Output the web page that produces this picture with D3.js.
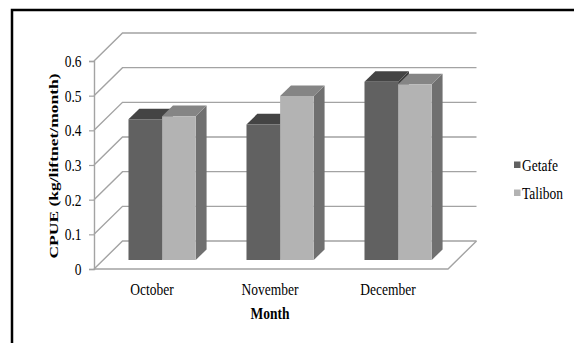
<!DOCTYPE html>
<html>
<head>
<meta charset="utf-8">
<script src="https://cdn.jsdelivr.net/npm/d3@7"></script>
<style>
  html, body { margin: 0; padding: 0; background: #fff; }
  svg { display: block; }
</style>
</head>
<body>
<svg id="chart" width="574" height="343"></svg>
<script>
// CPUE by month for two sites
const months = ["October", "November", "December"];
const getafe = [0.406, 0.391, 0.514];
const talibon = [0.415, 0.473, 0.507];
const seriesNames = ["Getafe", "Talibon"];
const yTicks = [0, 0.1, 0.2, 0.3, 0.4, 0.5, 0.6];

const W = 574, H = 343;
const FONT = "'Liberation Serif', 'Times New Roman', Times, serif";
const FS = "17.5px";
const SX = 0.77; // narrow glyph width

const svg = d3.select("#chart");

// front plane of the 3-D box
const left = 94, right = 448, floorY = 269, topY = 61;
// oblique depth offset of the back wall
const depthDX = 28.5, depthDY = -28;

const x0 = d3.scaleBand().domain(months).range([left, right]).paddingInner(0.43).paddingOuter(0.215);
const x1 = d3.scaleBand().domain(seriesNames).range([0, x0.bandwidth()]);
const y = d3.scaleLinear().domain([0, 0.6]).range([floorY, topY]);

// project (screen x on front plane, value, depth fraction) to screen
const P = (px, v, z) => [px + depthDX * z, y(v) + depthDY * z];
const pts = arr => arr.map(p => p.join(",")).join(" ");

// text helper: places narrowed serif text
function label(parent, x, yy, str, opts = {}) {
  return parent.append("text")
    .attr("transform", `translate(${x},${yy}) scale(${SX},1)` + (opts.rotate ? ` rotate(${opts.rotate})` : ""))
    .attr("text-anchor", opts.anchor || "start")
    .style("font-family", FONT)
    .style("font-size", FS)
    .style("font-weight", opts.bold ? "bold" : "normal")
    .attr("fill", "#000")
    .text(str);
}

// outer frame (runs off the right and bottom edges)
svg.append("rect")
  .attr("x", 12).attr("y", 10)
  .attr("width", W + 20).attr("height", H + 20)
  .attr("fill", "none").attr("stroke", "#000").attr("stroke-width", 2.5);

const grid = svg.append("g")
  .attr("fill", "none").attr("stroke", "#a3a3a3").attr("stroke-width", 1.4);

// side wall diagonals and back wall gridlines
yTicks.forEach(v => {
  grid.append("polyline").attr("points", pts([P(left, v, 0), P(left, v, 1), P(right, v, 1)]));
});
// floor front and right edges
grid.append("polyline").attr("points", pts([P(left, 0, 0), P(right, 0, 0), P(right, 0, 1)]));

// value axis line and ticks
const yAxis = d3.axisLeft(y).tickValues(yTicks).tickSize(5).tickPadding(7)
  .tickFormat(d => d === 0 ? "0" : d3.format(".1f")(d));
const gAxis = svg.append("g").attr("transform", `translate(${left},0)`).call(yAxis);
gAxis.select(".domain").attr("stroke", "#a3a3a3").attr("stroke-width", 1.4);
gAxis.selectAll(".tick line").attr("stroke", "#a3a3a3").attr("stroke-width", 1.2);
gAxis.selectAll(".tick text")
  .attr("x", 0)
  .attr("transform", `translate(-12.5,0) scale(${SX},1)`)
  .style("font-family", FONT).style("font-size", FS).attr("fill", "#000");

// bars
const z0 = 0.32, z1 = 0.70;
const colors = {
  Getafe: { front: "#616161", top: "#444444", side: "#3c3c3c" },
  Talibon: { front: "#b3b3b3", top: "#858585", side: "#707070" }
};
const values = { Getafe: getafe, Talibon: talibon };

const bars = svg.append("g");
months.forEach((m, i) => {
  seriesNames.forEach(s => {
    const v = values[s][i];
    const xa = x0(m) + x1(s), xb = xa + x1.bandwidth();
    const c = colors[s];
    const g = bars.append("g");
    g.append("polygon").attr("fill", c.side)
      .attr("points", pts([P(xb, 0, z0), P(xb, 0, z1), P(xb, v, z1), P(xb, v, z0)]));
    g.append("polygon").attr("fill", c.top)
      .attr("points", pts([P(xa, v, z0), P(xb, v, z0), P(xb, v, z1), P(xa, v, z1)]));
    g.append("polygon").attr("fill", c.front)
      .attr("points", pts([P(xa, 0, z0), P(xb, 0, z0), P(xb, v, z0), P(xa, v, z0)]));
  });
});

// category labels
const cats = svg.append("g");
months.forEach(m => label(cats, x0(m) + x0.bandwidth() / 2 - 1, 295, m, { anchor: "middle" }));

// axis titles
label(svg, 270, 318.5, "Month", { anchor: "middle", bold: true });
label(svg, 58, 166, "CPUE (kg/liftnet/month)", { anchor: "middle", bold: true, rotate: -90 });

// legend
const legend = svg.append("g");
seriesNames.forEach((s, i) => {
  const cy = 165 + i * 28;
  legend.append("rect")
    .attr("x", 514).attr("y", cy - 3.5).attr("width", 6.5).attr("height", 6.5)
    .attr("fill", colors[s].front);
  label(legend, 522, cy + 6, s);
});
</script>
</body>
</html>
